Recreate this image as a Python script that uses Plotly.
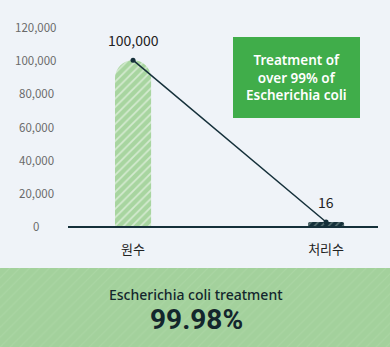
import plotly.graph_objects as go

categories = ["원수", "처리수"]
values = [100000, 16]
value_labels = ["100,000", "16"]
y_ticks = [0, 20000, 40000, 60000, 80000, 100000, 120000]
y_tick_labels = ["0", "20,000", "40,000", "60,000", "80,000", "100,000", "120,000"]
callout_text = "Treatment of<br>over 99% of<br>Escherichia coli"
band_title = "Escherichia coli treatment"
band_value = "99.98%"

W, H = 390, 347
BG = "#eff3f8"
DARK = "#15303a"
LIGHT_GREEN = "#a8d5a0"
MIN_VISIBLE = 2400  # minimum drawn height so tiny values stay visible

disp = [max(v, MIN_VISIBLE) for v in values]
xpos = list(range(len(categories)))

fig = go.Figure()

fig.add_trace(go.Bar(
    x=[xpos[0]], y=[disp[0]], width=0.187,
    marker=dict(color=LIGHT_GREEN, line=dict(width=0), cornerradius=18,
                pattern=dict(shape="/", fgcolor="#ffffff", bgcolor=LIGHT_GREEN,
                             size=6, solidity=0.28, fillmode="overlay")),
    hoverinfo="skip", showlegend=False, xaxis="x", yaxis="y"))
fig.add_trace(go.Bar(
    x=[xpos[1]], y=[disp[1]], width=0.187,
    marker=dict(color=DARK, line=dict(width=0), cornerradius=2,
                pattern=dict(shape="/", fgcolor="#9fb5ad", bgcolor=DARK,
                             size=5, solidity=0.3, fillmode="overlay")),
    hoverinfo="skip", showlegend=False, xaxis="x", yaxis="y"))

fig.add_trace(go.Scatter(
    x=xpos, y=disp, mode="lines+markers",
    line=dict(color=DARK, width=1.5),
    marker=dict(color=DARK, size=5),
    hoverinfo="skip", showlegend=False, xaxis="x", yaxis="y"))

fig.add_trace(go.Bar(
    x=[0], y=[1], width=1,
    marker=dict(color="#a3d19c", line=dict(width=0),
                pattern=dict(shape="/", fgcolor="#b3dbad", bgcolor="#a3d19c",
                             size=7, solidity=0.15, fillmode="overlay")),
    hoverinfo="skip", showlegend=False, xaxis="x2", yaxis="y2"))

annotations = []
for yt, lab in zip(y_ticks, y_tick_labels):
    annotations.append(dict(x=36 / W, xref="paper", y=yt, yref="y", text=lab,
                            showarrow=False, xanchor="center", yanchor="middle",
                            font=dict(size=11.5, color="#6a6a6a")))
for xp, d, lab in zip(xpos, disp, value_labels):
    annotations.append(dict(x=xp, xref="x", y=d, yref="y", text=lab, showarrow=False,
                            yshift=20, xanchor="center", yanchor="middle",
                            font=dict(size=14, color="#222222")))
annotations.append(dict(x=296.5 / W, xref="paper", y=1 - 77.5 / H, yref="paper",
                        text=callout_text, showarrow=False, align="center",
                        xanchor="center", yanchor="middle",
                        font=dict(size=13.5, color="#ffffff", weight=600,
                                  family="Noto Sans, sans-serif")))
annotations.append(dict(x=196 / W, xref="paper", y=1 - 294 / H, yref="paper",
                        text=band_title, showarrow=False, xanchor="center", yanchor="middle",
                        font=dict(size=14, color="#13262c", weight=500,
                                  family="Noto Sans, sans-serif")))
annotations.append(dict(x=196 / W, xref="paper", y=1 - 319 / H, yref="paper",
                        text="<b>" + band_value + "</b>", showarrow=False,
                        xanchor="center", yanchor="middle",
                        font=dict(size=28, color="#13262c", family="Roboto, sans-serif")))

shapes = [dict(type="rect", xref="paper", yref="paper",
               x0=233 / W, x1=360 / W, y0=1 - 118 / H, y1=1 - 37 / H,
               fillcolor="#40ad4a", line=dict(width=0), layer="below")]

fig.update_layout(
    width=W, height=H,
    margin=dict(l=0, r=0, t=0, b=0),
    paper_bgcolor=BG, plot_bgcolor="rgba(0,0,0,0)",
    barmode="overlay",
    font=dict(family="Noto Sans CJK KR, Noto Sans, sans-serif"),
    xaxis=dict(domain=[68 / W, 378 / W], range=[-0.337, 1.269],
               tickmode="array", tickvals=xpos, ticktext=categories,
               tickfont=dict(size=13, color="#222222"),
               showgrid=False, zeroline=False, showline=True,
               linecolor=DARK, linewidth=2, ticks="", ticklabelstandoff=10),
    yaxis=dict(domain=[1 - 226 / H, 1 - 27 / H], range=[0, 120000],
               showticklabels=False, showgrid=False, zeroline=False, showline=False),
    xaxis2=dict(domain=[0, 1], range=[-0.5, 0.5], visible=False, anchor="y2"),
    yaxis2=dict(domain=[0, 1 - 268 / H], range=[0, 1], visible=False, anchor="x2"),
    annotations=annotations,
    shapes=shapes,
)

fig.write_html("out.html")
